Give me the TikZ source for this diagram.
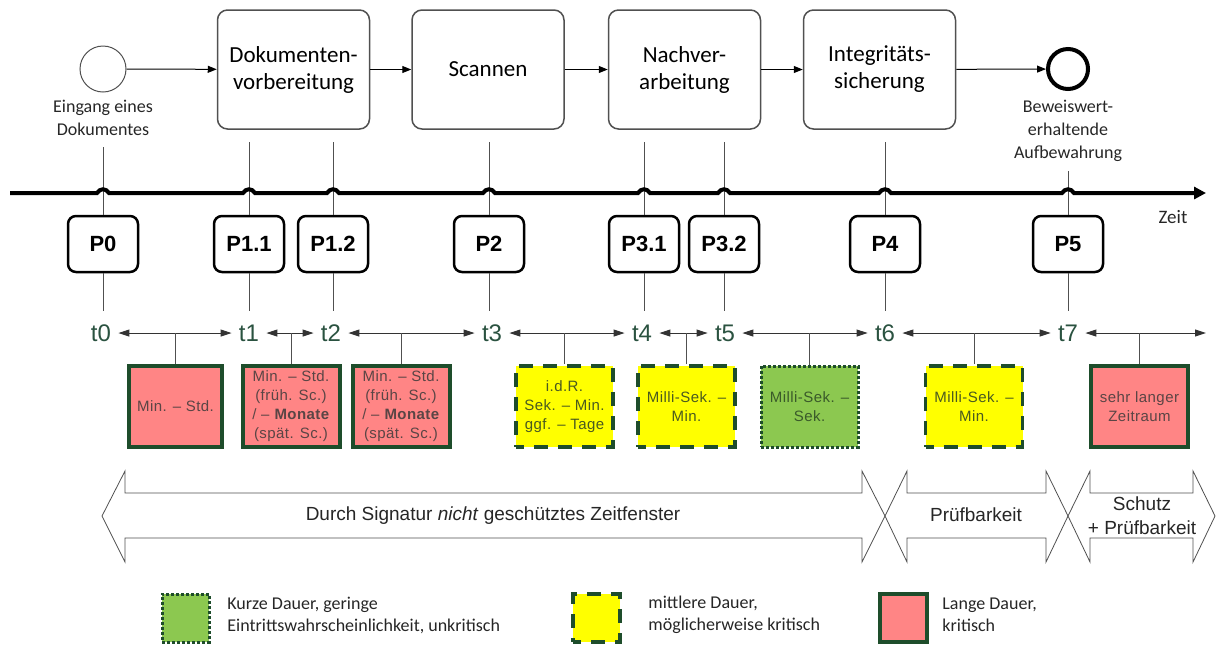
\documentclass[tikz,border=0pt]{standalone}
\usepackage{fontspec}
\setmainfont{Carlito}
\newfontfamily\arialf{Liberation Sans}
\newfontfamily\boxf[LetterSpace=3]{Liberation Sans}
\usetikzlibrary{arrows.meta,calc}
\definecolor{dkgreen}{HTML}{1E4D2B}
\definecolor{redfill}{HTML}{FF8585}
\definecolor{yelfill}{HTML}{FFFF00}
\definecolor{grnfill}{HTML}{8CC850}
\definecolor{tcol}{HTML}{2A5240}
\definecolor{redtext}{HTML}{5A4545}
\definecolor{yeltext}{HTML}{4A5A20}
\definecolor{grntext}{HTML}{3A5A2A}
\definecolor{linegray}{HTML}{505050}
\begin{document}
\begin{tikzpicture}[x=0.5pt,y=-0.5pt,
  proc/.style={draw=linegray,line width=0.75pt,rounded corners=5pt,minimum width=76pt,minimum height=59.5pt,align=center,inner sep=0pt,font=\fontsize{11.5}{13.5}\selectfont},
  pbox/.style={draw=black,line width=1.25pt,rounded corners=4pt,minimum width=35pt,minimum height=28pt,inner sep=0pt,font=\arialf\bfseries\fontsize{11}{13}\selectfont},
  tlab/.style={inner xsep=3.5pt,inner ysep=0pt,text=tcol,font=\arialf\fontsize{12}{14}\selectfont},
  dur/.style={minimum width=48.5pt,minimum height=40.5pt,inner sep=0pt,align=center,font=\boxf\fontsize{7.5}{9.5}\selectfont},
  redbox/.style={dur,draw=dkgreen,fill=redfill,line width=2pt,text=redtext},
  yelbox/.style={dur,draw=dkgreen,fill=yelfill,line width=1.8pt,dash pattern=on 7pt off 5pt,dash phase=3pt,text=yeltext},
  grnbox/.style={dur,draw=dkgreen,fill=grnfill,line width=1.5pt,dash pattern=on 1.5pt off 1pt,text=grntext},
  flow/.style={draw=black,line width=0.5pt,-{Triangle[length=4.5pt,width=3.5pt]}},
  darr/.style={draw=black!80,line width=0.5pt,{Triangle[length=5.5pt,width=3.5pt]}-{Triangle[length=5.5pt,width=3.5pt]}},
  vline/.style={draw=linegray,line width=0.5pt},
  bigarr/.style={draw=linegray,line width=0.4pt,fill=white},
  arrtext/.style={align=center,font=\arialf\fontsize{9.5}{12}\selectfont,text=black!85},
  evlabel/.style={align=center,font=\fontsize{9}{11.5}\selectfont,text=black!85},
  legtext/.style={anchor=west,align=left,inner sep=0pt,font=\fontsize{9}{11}\selectfont,text=black!85}
]
\useasboundingbox (0,0) rectangle (1218,660);

% --- process row ---
\node[circle,draw=linegray,line width=0.5pt,minimum size=23pt,inner sep=0pt] (start) at (103,69) {};
\node[evlabel] (startlab) at (103,118) {Eingang eines\\Dokumentes};
\node[proc] (dok) at (293.5,69.5) {Dokumenten-\\vorbereitung};
\node[proc] (scan) at (488,69.5) {Scannen};
\node[proc] (nach) at (684.5,69.5) {Nachver-\\arbeitung};
\node[proc] (integ) at (879.5,69.5) {Integritäts-\\sicherung};
\node[circle,draw=black,line width=2pt,minimum size=20pt,inner sep=0pt] (end) at (1068,69) {};
\node[evlabel] (endlab) at (1068,131) {Beweiswert-\\erhaltende\\Aufbewahrung};
\draw[flow] (start) -- (dok);
\draw[flow] (dok) -- (scan);
\draw[flow] (scan) -- (nach);
\draw[flow] (nach) -- (integ);
\draw[flow] (integ) -- (end);

% --- P boxes ---
\foreach \n/\lab/\x/\top in {P0/P0/103/147, P11/P1.1/249/142, P12/P1.2/333/142, P2/P2/489/142, P31/P3.1/644/142, P32/P3.2/724/142, P4/P4/885/142, P5/P5/1068/171}{
  \node[pbox] (\n) at (\x,244) {\lab};
  \coordinate (\n top) at (\x,\top);
  \coordinate (\n bot) at (\x,311);
  \draw[vline] (\n top) -- (\n.north);
  \draw[vline] (\n.south) -- (\n bot);
}

% --- time line with hops ---
\coordinate (tlstart) at (10,193);
\coordinate (tlend) at (1206,193);
\draw[line width=2pt,-{Triangle[length=6pt,width=6pt]}] (tlstart)
  \foreach \x in {103,249,333,489,644,724,885,1068}{ -- (\x-6,193) .. controls (\x-3,188) and (\x+3,188) .. (\x+6,193) } -- (tlend);
\node[font=\fontsize{9.5}{11}\selectfont,text=black!85] (zeit) at (1173,217) {Zeit};

% --- t labels ---
\foreach \n/\x in {t0/101,t1/249,t2/331,t3/492,t4/642,t5/725,t6/885,t7/1068}{
  \node[tlab] (\n) at (\x,333) {\n};
}
\coordinate (tend) at (1206,333);
\foreach \a/\b in {t0/t1,t1/t2,t2/t3,t3/t4,t4/t5,t5/t6,t6/t7}{
  \draw[darr] (\a.east) -- (\b.west);
}
\draw[darr] (t7.east) -- (tend);

% --- duration boxes ---
\node[redbox,minimum width=46.5pt] (d1) at (175.5,406.5) {Min. – Std.};
\node[redbox] (d2) at (291,406.5) {Min. – Std.\\(früh. Sc.)\\/ – \textbf{Monate}\\(spät. Sc.)};
\node[redbox] (d3) at (401,406.5) {Min. – Std.\\(früh. Sc.)\\/ – \textbf{Monate}\\(spät. Sc.)};
\node[yelbox] (d4) at (564.5,406.5) {i.d.R.\\Sek. – Min.\\ggf. – Tage};
\node[yelbox] (d5) at (686.5,406.5) {Milli-Sek. –\\Min.};
\node[grnbox] (d6) at (809.5,406.5) {Milli-Sek. –\\Sek.};
\node[yelbox] (d7) at (974,406.5) {Milli-Sek. –\\Min.};
\node[redbox] (d8) at (1139.5,406.5) {sehr langer\\Zeitraum};
\foreach \d in {d1,d2,d3,d4,d5,d6,d7,d8}{
  \draw[vline] (\d.north) -- (\d.north |- t0.center);
}

% --- big arrows ---
\draw[bigarr] (102,516) -- (125,471) -- (125,493) -- (862,493) -- (862,471) -- (885,516) -- (862,562) -- (862,538) -- (125,538) -- (125,562) -- cycle;
\draw[bigarr] (885,516) -- (907,471) -- (907,493) -- (1046,493) -- (1046,471) -- (1068,516) -- (1046,562) -- (1046,538) -- (907,538) -- (907,562) -- cycle;
\draw[bigarr] (1068,516) -- (1090,471) -- (1090,493) -- (1193,493) -- (1193,471) -- (1215,516) -- (1193,562) -- (1193,538) -- (1090,538) -- (1090,562) -- cycle;
\node[arrtext] (a1) at (493,516) {Durch Signatur \textit{nicht} geschütztes Zeitfenster};
\node[arrtext] (a2) at (976,515) {Prüfbarkeit};
\node[arrtext] (a3) at (1142,516) {Schutz\\+ Prüfbarkeit};

% --- legend ---
\node[grnbox,minimum width=23.5pt,minimum height=24pt] (lg) at (185.5,618) {};
\node[legtext] (lgt) at (227,615) {Kurze Dauer, geringe\\Eintrittswahrscheinlichkeit, unkritisch};
\node[yelbox,minimum width=23.5pt,minimum height=24pt] (ly) at (596.5,618) {};
\node[legtext] (lyt) at (648,615) {mittlere Dauer,\\möglicherweise kritisch};
\node[redbox,minimum width=23.5pt,minimum height=24pt] (lr) at (903,618) {};
\node[legtext] (lrt) at (942,615) {Lange Dauer,\\kritisch};
\end{tikzpicture}
\end{document}
